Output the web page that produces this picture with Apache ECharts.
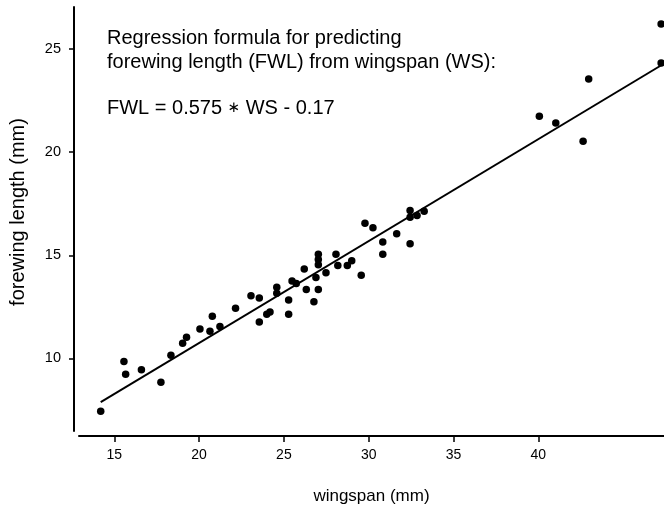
<!DOCTYPE html>
<html>
<head>
<meta charset="utf-8">
<script src="https://cdn.jsdelivr.net/npm/echarts@6/dist/echarts.min.js"></script>
<style>
html,body{margin:0;padding:0;background:#fff;}
#chart{width:664px;height:510px;}
</style>
</head>
<body>
<div id="chart"></div>
<script>
// wingspan (mm) and forewing length (mm)
var wingspan = [14.20,15.57,15.67,16.60,17.75,18.34,19.03,19.26,20.05,20.64,20.78,21.23,22.15,23.06,23.55,23.55,23.99,24.18,24.58,24.58,25.28,25.28,25.48,25.73,26.20,26.32,26.77,26.89,27.03,27.03,27.03,27.03,27.48,28.07,28.18,28.74,29.00,29.56,29.78,30.25,30.83,30.83,31.65,32.44,32.44,32.85,32.44,33.27,40.06,41.03,42.64,42.97,47.24,47.24];
var forewing = [7.44,9.85,9.23,9.45,8.84,10.15,10.74,11.02,11.43,11.32,12.05,11.55,12.43,13.04,12.93,11.77,12.14,12.25,13.45,13.16,12.83,12.14,13.75,13.63,14.34,13.34,12.75,13.92,15.05,14.80,14.54,13.34,14.15,15.05,14.51,14.51,14.73,14.03,16.55,16.33,15.64,15.05,16.05,17.17,16.84,16.93,15.56,17.13,21.74,21.42,20.53,23.55,26.22,24.32];
// fitted line end points as drawn
var lineWS = [14.20, 47.30];
var lineFWL = [7.88, 24.24];
// tick labels
var xTicks = [15, 20, 25, 30, 35, 40];
var yTicks = [10, 15, 20, 25];
var xTitle = 'wingspan (mm)';
var yTitle = 'forewing length (mm)';
var noteLine1 = 'Regression formula for predicting';
var noteLine2 = 'forewing length (FWL) from wingspan (WS):';
var noteFormula = ['FWL = 0.575 ', '\u2217', ' WS - 0.17'];

var pts = wingspan.map(function (w, i) { return [w, forewing[i]]; });
var linePts = lineWS.map(function (w, i) { return [w, lineFWL[i]]; });
var FONT = '"Liberation Sans", Arial, Helvetica, sans-serif';

var chart = echarts.init(document.getElementById('chart'), null, {renderer: 'canvas'});
chart.setOption({
  animation: false,
  backgroundColor: '#ffffff',
  grid: {left: 79, right: 0, top: 7, bottom: 78, containLabel: false},
  xAxis: {
    type: 'value', min: 12.92, max: 47.41, offset: 5,
    name: xTitle, nameLocation: 'middle', nameGap: 52,
    nameTextStyle: {fontFamily: FONT, fontSize: 17, color: '#000'},
    axisLine: {show: true, lineStyle: {color: '#000', width: 2}},
    axisTick: {show: true, length: 6, lineStyle: {color: '#000', width: 1.5}, customValues: xTicks},
    axisLabel: {fontFamily: FONT, fontSize: 14, color: '#000', margin: 12, customValues: xTicks},
    splitLine: {show: false}
  },
  yAxis: {
    type: 'value', min: 6.48, max: 27.04, offset: 5,
    axisLine: {show: true, lineStyle: {color: '#000', width: 2}},
    axisTick: {show: true, length: 5, lineStyle: {color: '#000', width: 1.5}, customValues: yTicks},
    axisLabel: {fontFamily: FONT, fontSize: 14.5, color: '#000', margin: 13, customValues: yTicks},
    splitLine: {show: false}
  },
  graphic: [{
    type: 'text', left: 107, top: 27, silent: true,
    style: {text: noteLine1 + '\n' + noteLine2, font: '20px ' + FONT, fill: '#000', lineHeight: 23.5}
  }, {
    type: 'text', left: 107, top: 98, silent: true,
    style: {
      text: '{a|' + noteFormula[0] + '}{s|' + noteFormula[1] + '}{a|' + noteFormula[2] + '}',
      rich: {
        a: {fontFamily: FONT, fontSize: 20, color: '#000', lineHeight: 24},
        s: {fontFamily: '"DejaVu Sans", sans-serif', fontSize: 15, color: '#000', lineHeight: 24}
      }
    }
  }, {
    type: 'text', x: 18, y: 212, rotation: Math.PI / 2, silent: true,
    style: {text: yTitle, font: '20px ' + FONT, fill: '#000', align: 'center', verticalAlign: 'middle'}
  }],
  series: [{
    type: 'line', data: linePts, showSymbol: false, silent: true,
    lineStyle: {color: '#000', width: 2}, z: 2
  }, {
    type: 'scatter', data: pts, symbol: 'circle', symbolSize: 7.5,
    itemStyle: {color: '#000', opacity: 1}, z: 3
  }]
});
</script>
</body>
</html>
